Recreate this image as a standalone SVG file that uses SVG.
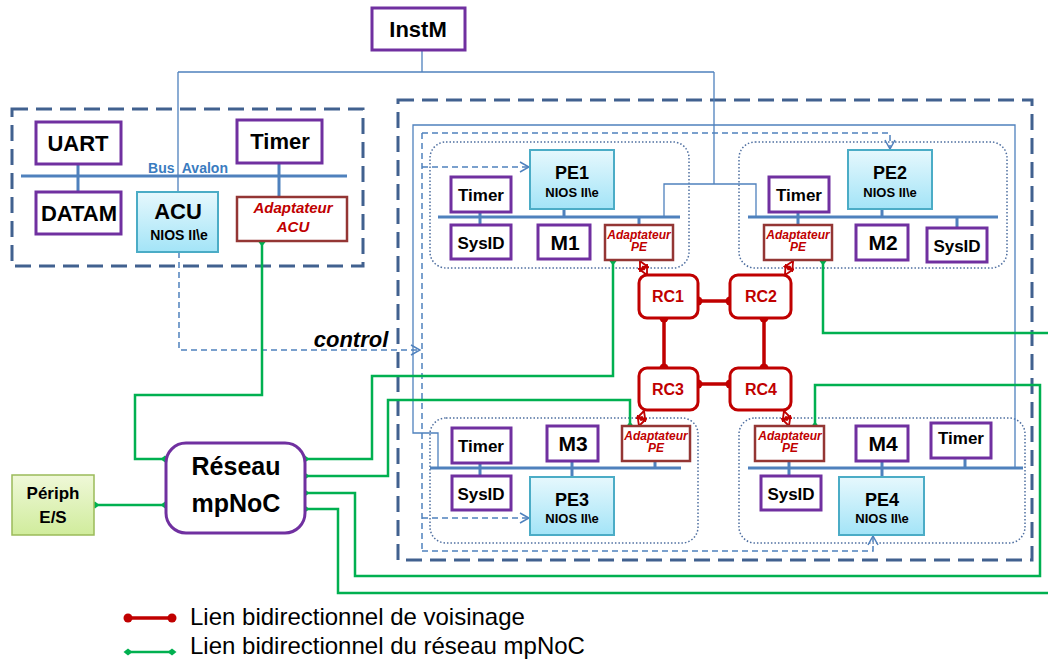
<svg xmlns="http://www.w3.org/2000/svg" width="1048" height="661" viewBox="0 0 1048 661">
<defs>
<style>
.pur{fill:#fff;stroke:#7030A0;stroke-width:3}
.cy{fill:url(#cyan);stroke:#4BACC6;stroke-width:2}
.ad{fill:#fff;stroke:#943634;stroke-width:2.5}
.rc{fill:#fff;stroke:#C00000;stroke-width:3}
.clu{fill:none;stroke:#4F6FA0;stroke-width:1.5;stroke-dasharray:1.5 2}
.big{fill:none;stroke:#41618F;stroke-width:3;stroke-dasharray:16 8}
.bus{fill:none;stroke:#4F81BD;stroke-width:3}
.thin{fill:none;stroke:#4F81BD;stroke-width:1.3}
.ctl{fill:none;stroke:#4F81BD;stroke-width:1.5;stroke-dasharray:6 4}
.arr{marker-end:url(#chev)}
.g{fill:none;stroke:#00B050;stroke-width:2.5;marker-start:url(#gd);marker-end:url(#gd)}
.r{fill:none;stroke:#C00000;stroke-width:3.5;marker-start:url(#rd);marker-end:url(#rd)}
.ra{fill:none;stroke:#C00000;stroke-width:2.5;marker-start:url(#rarr);marker-end:url(#rarr)}
text{font-family:"Liberation Sans",Arial,sans-serif;text-anchor:middle;fill:#000}
.b{font-weight:bold}
.red{fill:#C00000;font-weight:bold;font-style:italic}
</style>
<linearGradient id="cyan" x1="0" y1="0" x2="0" y2="1"><stop offset="0" stop-color="#E6F8FD"/><stop offset="1" stop-color="#A3E4F7"/></linearGradient>
<linearGradient id="lime" x1="0" y1="0" x2="0" y2="1"><stop offset="0" stop-color="#EFF8D8"/><stop offset="1" stop-color="#D0EC9C"/></linearGradient>
<marker id="gd" viewBox="-5 -5 10 10" markerWidth="10" markerHeight="10" refX="0" refY="0" markerUnits="userSpaceOnUse" orient="auto"><path d="M-4.5,0 L0,-3.5 L4.5,0 L0,3.5Z" fill="#00B050"/></marker>
<marker id="rd" viewBox="-5 -5 10 10" markerWidth="10" markerHeight="10" refX="0" refY="0" markerUnits="userSpaceOnUse" orient="auto"><circle r="4.5" fill="#C00000"/></marker>
<marker id="chev" viewBox="0 0 12 12" markerWidth="12" markerHeight="12" refX="11" refY="6" markerUnits="userSpaceOnUse" orient="auto"><path d="M2,1 L11,6 L2,11" fill="none" stroke="#4F81BD" stroke-width="1.5"/></marker>
<marker id="rarr" viewBox="0 0 12 12" markerWidth="11" markerHeight="11" refX="11" refY="6" markerUnits="userSpaceOnUse" orient="auto-start-reverse"><path d="M1,1 L11,6 L1,11 L4,6Z" fill="#fff" stroke="#C00000" stroke-width="2"/></marker>
</defs>
<rect width="1048" height="661" fill="#fff"/>

<g id="frames">
<rect x="12" y="109" width="351" height="157" class="big"/>
<rect x="398" y="100" width="634" height="460" class="big"/>
<rect x="430" y="142" width="259" height="126" rx="16" class="clu"/>
<rect x="739" y="142" width="268" height="126" rx="16" class="clu"/>
<rect x="430" y="418" width="268" height="125" rx="16" class="clu"/>
<rect x="739" y="418" width="286" height="125" rx="16" class="clu"/>
</g>

<g id="connectors">
<path class="thin" d="M422,50 V72 M178,72 H714 M178,72 V192 M714,72 V184 M664,217 V184 H756 V217"/>
<path class="thin" d="M438,468 V433 H413 V125 H1015 V468"/>
<path class="ctl arr" d="M179,252 V350 H420"/>
<path class="ctl" d="M422,133 V551"/>
<path class="ctl arr" d="M422,133 H890 V149"/>
<path class="ctl arr" d="M422,551 H873 V536"/>
<path class="ctl arr" d="M422,167 H529"/>
<path class="ctl arr" d="M422,518 H529"/>
<path class="bus" d="M21,176 H347 M78,164 V192 M279,163 V197"/>
<path class="bus" d="M438,217 H680 M480,212 V225 M564,209 V217 M639,217 V225"/>
<path class="bus" d="M748,217 H998 M798,212 V225 M882,209 V217 M957,217 V228"/>
<path class="bus" d="M430,468 H681 M480,463 V476 M572,461 V477 M655,461 V468"/>
<path class="bus" d="M748,468 H1023 M789,461 V476 M882,461 V477 M965,458 V468"/>
<path class="r" d="M698,301 H730"/>
<path class="r" d="M698,384 H730"/>
<path class="r" d="M664,318 V368"/>
<path class="r" d="M764,318 V368"/>
<path class="ra" d="M640,261 L647,275"/>
<path class="ra" d="M793,261 L785,275"/>
<path class="ra" d="M644,411 L639,426"/>
<path class="ra" d="M784,411 L789,426"/>
<path class="g" d="M262,242 V395 H135 V459 H165"/>
<path class="g" d="M95,505 H165"/>
<path class="g" d="M305,459 H372 V376 H613 V261"/>
<path class="g" d="M305,476 H388 V400 H630 V426"/>
<path class="g" d="M305,493 H355 V576 H1040 V385 H815 V426"/>
<path class="g" d="M305,509 H338 V593 H1060 V333 H823 V261"/>
<path class="r" d="M128,618 H172"/>
<path class="g" d="M128,652 H172"/>
</g>

<g id="InstM"><rect x="372" y="8" width="93" height="42" class="pur"/><text x="418" y="37" class="b" font-size="22">InstM</text></g>

<g id="UART"><rect x="36" y="122" width="85" height="42" class="pur"/><text x="78" y="151" class="b" font-size="22">UART</text></g>
<g id="TimerACU"><rect x="237" y="120" width="85" height="43" class="pur"/><text x="280" y="149" class="b" font-size="22">Timer</text></g>
<text x="188" y="173" class="b" font-size="14" style="fill:#3A7CC0;white-space:pre">Bus  Avalon</text>
<g id="DATAM"><rect x="36" y="192" width="85" height="42" class="pur"/><text x="79" y="221" class="b" font-size="22">DATAM</text></g>
<g id="ACU"><rect x="137" y="192" width="81" height="60" class="cy"/><text x="178" y="219" class="b" font-size="22">ACU</text><text x="179" y="240" class="b" font-size="14">NIOS II\e</text></g>
<g id="AdaptACU"><rect x="237" y="197" width="110" height="44" class="ad"/><text x="293" y="213" class="red" font-size="15">Adaptateur</text><text x="293" y="232" class="red" font-size="15">ACU</text></g>

<g id="PE1"><rect x="530" y="150" width="84" height="59" class="cy"/><text x="572" y="179" class="b" font-size="18">PE1</text><text x="572" y="197" class="b" font-size="13">NIOS II\e</text></g>
<g id="Timer1"><rect x="451" y="177" width="60" height="35" class="pur"/><text x="481" y="201" class="b" font-size="17">Timer</text></g>
<g id="SysID1"><rect x="451" y="225" width="60" height="34" class="pur"/><text x="481" y="249" class="b" font-size="17">SysID</text></g>
<g id="M1"><rect x="538" y="225" width="52" height="34" class="pur"/><text x="565" y="250" class="b" font-size="21">M1</text></g>
<g id="Adapt1"><rect x="605" y="225" width="68" height="35" class="ad"/><text x="639" y="239" class="red" font-size="12">Adaptateur</text><text x="639" y="251" class="red" font-size="12">PE</text></g>

<g id="PE2"><rect x="848" y="150" width="84" height="59" class="cy"/><text x="890" y="179" class="b" font-size="18">PE2</text><text x="890" y="197" class="b" font-size="13">NIOS II\e</text></g>
<g id="Timer2"><rect x="769" y="177" width="60" height="35" class="pur"/><text x="799" y="201" class="b" font-size="17">Timer</text></g>
<g id="Adapt2"><rect x="764" y="225" width="68" height="35" class="ad"/><text x="798" y="239" class="red" font-size="12">Adaptateur</text><text x="798" y="251" class="red" font-size="12">PE</text></g>
<g id="M2"><rect x="856" y="225" width="52" height="35" class="pur"/><text x="883" y="250" class="b" font-size="21">M2</text></g>
<g id="SysID2"><rect x="927" y="228" width="60" height="34" class="pur"/><text x="957" y="252" class="b" font-size="17">SysID</text></g>

<g id="Timer3"><rect x="452" y="428" width="59" height="35" class="pur"/><text x="481" y="452" class="b" font-size="17">Timer</text></g>
<g id="M3"><rect x="547" y="426" width="51" height="35" class="pur"/><text x="573" y="451" class="b" font-size="21">M3</text></g>
<g id="Adapt3"><rect x="622" y="426" width="68" height="35" class="ad"/><text x="656" y="440" class="red" font-size="12">Adaptateur</text><text x="656" y="452" class="red" font-size="12">PE</text></g>
<g id="SysID3"><rect x="452" y="476" width="59" height="34" class="pur"/><text x="481" y="500" class="b" font-size="17">SysID</text></g>
<g id="PE3"><rect x="530" y="477" width="84" height="58" class="cy"/><text x="572" y="506" class="b" font-size="18">PE3</text><text x="572" y="523" class="b" font-size="13">NIOS II\e</text></g>

<g id="Adapt4"><rect x="755" y="426" width="69" height="35" class="ad"/><text x="790" y="440" class="red" font-size="12">Adaptateur</text><text x="790" y="452" class="red" font-size="12">PE</text></g>
<g id="M4"><rect x="856" y="426" width="52" height="35" class="pur"/><text x="883" y="451" class="b" font-size="21">M4</text></g>
<g id="Timer4"><rect x="931" y="423" width="60" height="35" class="pur"/><text x="961" y="444" class="b" font-size="17">Timer</text></g>
<g id="SysID4"><rect x="761" y="476" width="60" height="34" class="pur"/><text x="791" y="500" class="b" font-size="17">SysID</text></g>
<g id="PE4"><rect x="839" y="477" width="85" height="58" class="cy"/><text x="882" y="506" class="b" font-size="18">PE4</text><text x="882" y="523" class="b" font-size="13">NIOS II\e</text></g>

<g id="RC1"><rect x="639" y="275" width="59" height="43" rx="8" class="rc"/><text x="668" y="302" class="b" font-size="16" style="fill:#C00000">RC1</text></g>
<g id="RC2"><rect x="730" y="275" width="61" height="43" rx="8" class="rc"/><text x="761" y="302" class="b" font-size="16" style="fill:#C00000">RC2</text></g>
<g id="RC3"><rect x="639" y="368" width="59" height="42" rx="8" class="rc"/><text x="668" y="395" class="b" font-size="16" style="fill:#C00000">RC3</text></g>
<g id="RC4"><rect x="730" y="368" width="61" height="42" rx="8" class="rc"/><text x="761" y="395" class="b" font-size="16" style="fill:#C00000">RC4</text></g>

<g id="Reseau"><rect x="166" y="443" width="139" height="90" rx="20" class="pur"/><text x="236" y="475" class="b" font-size="25">Réseau</text><text x="236" y="512" class="b" font-size="25">mpNoC</text></g>
<g id="Periph"><rect x="12" y="475" width="82" height="60" fill="url(#lime)" stroke="#9BBB59" stroke-width="1.5"/><text x="53" y="499" class="b" font-size="17">Périph</text><text x="53" y="523" class="b" font-size="17">E/S</text></g>

<text x="351" y="347" class="b" font-size="22" font-style="italic">control</text>

<g id="legend">
<text x="190" y="625" font-size="24" style="text-anchor:start">Lien bidirectionnel de voisinage</text>
<text x="190" y="654" font-size="24" style="text-anchor:start">Lien bidirectionnel du réseau mpNoC</text>
</g>
</svg>
